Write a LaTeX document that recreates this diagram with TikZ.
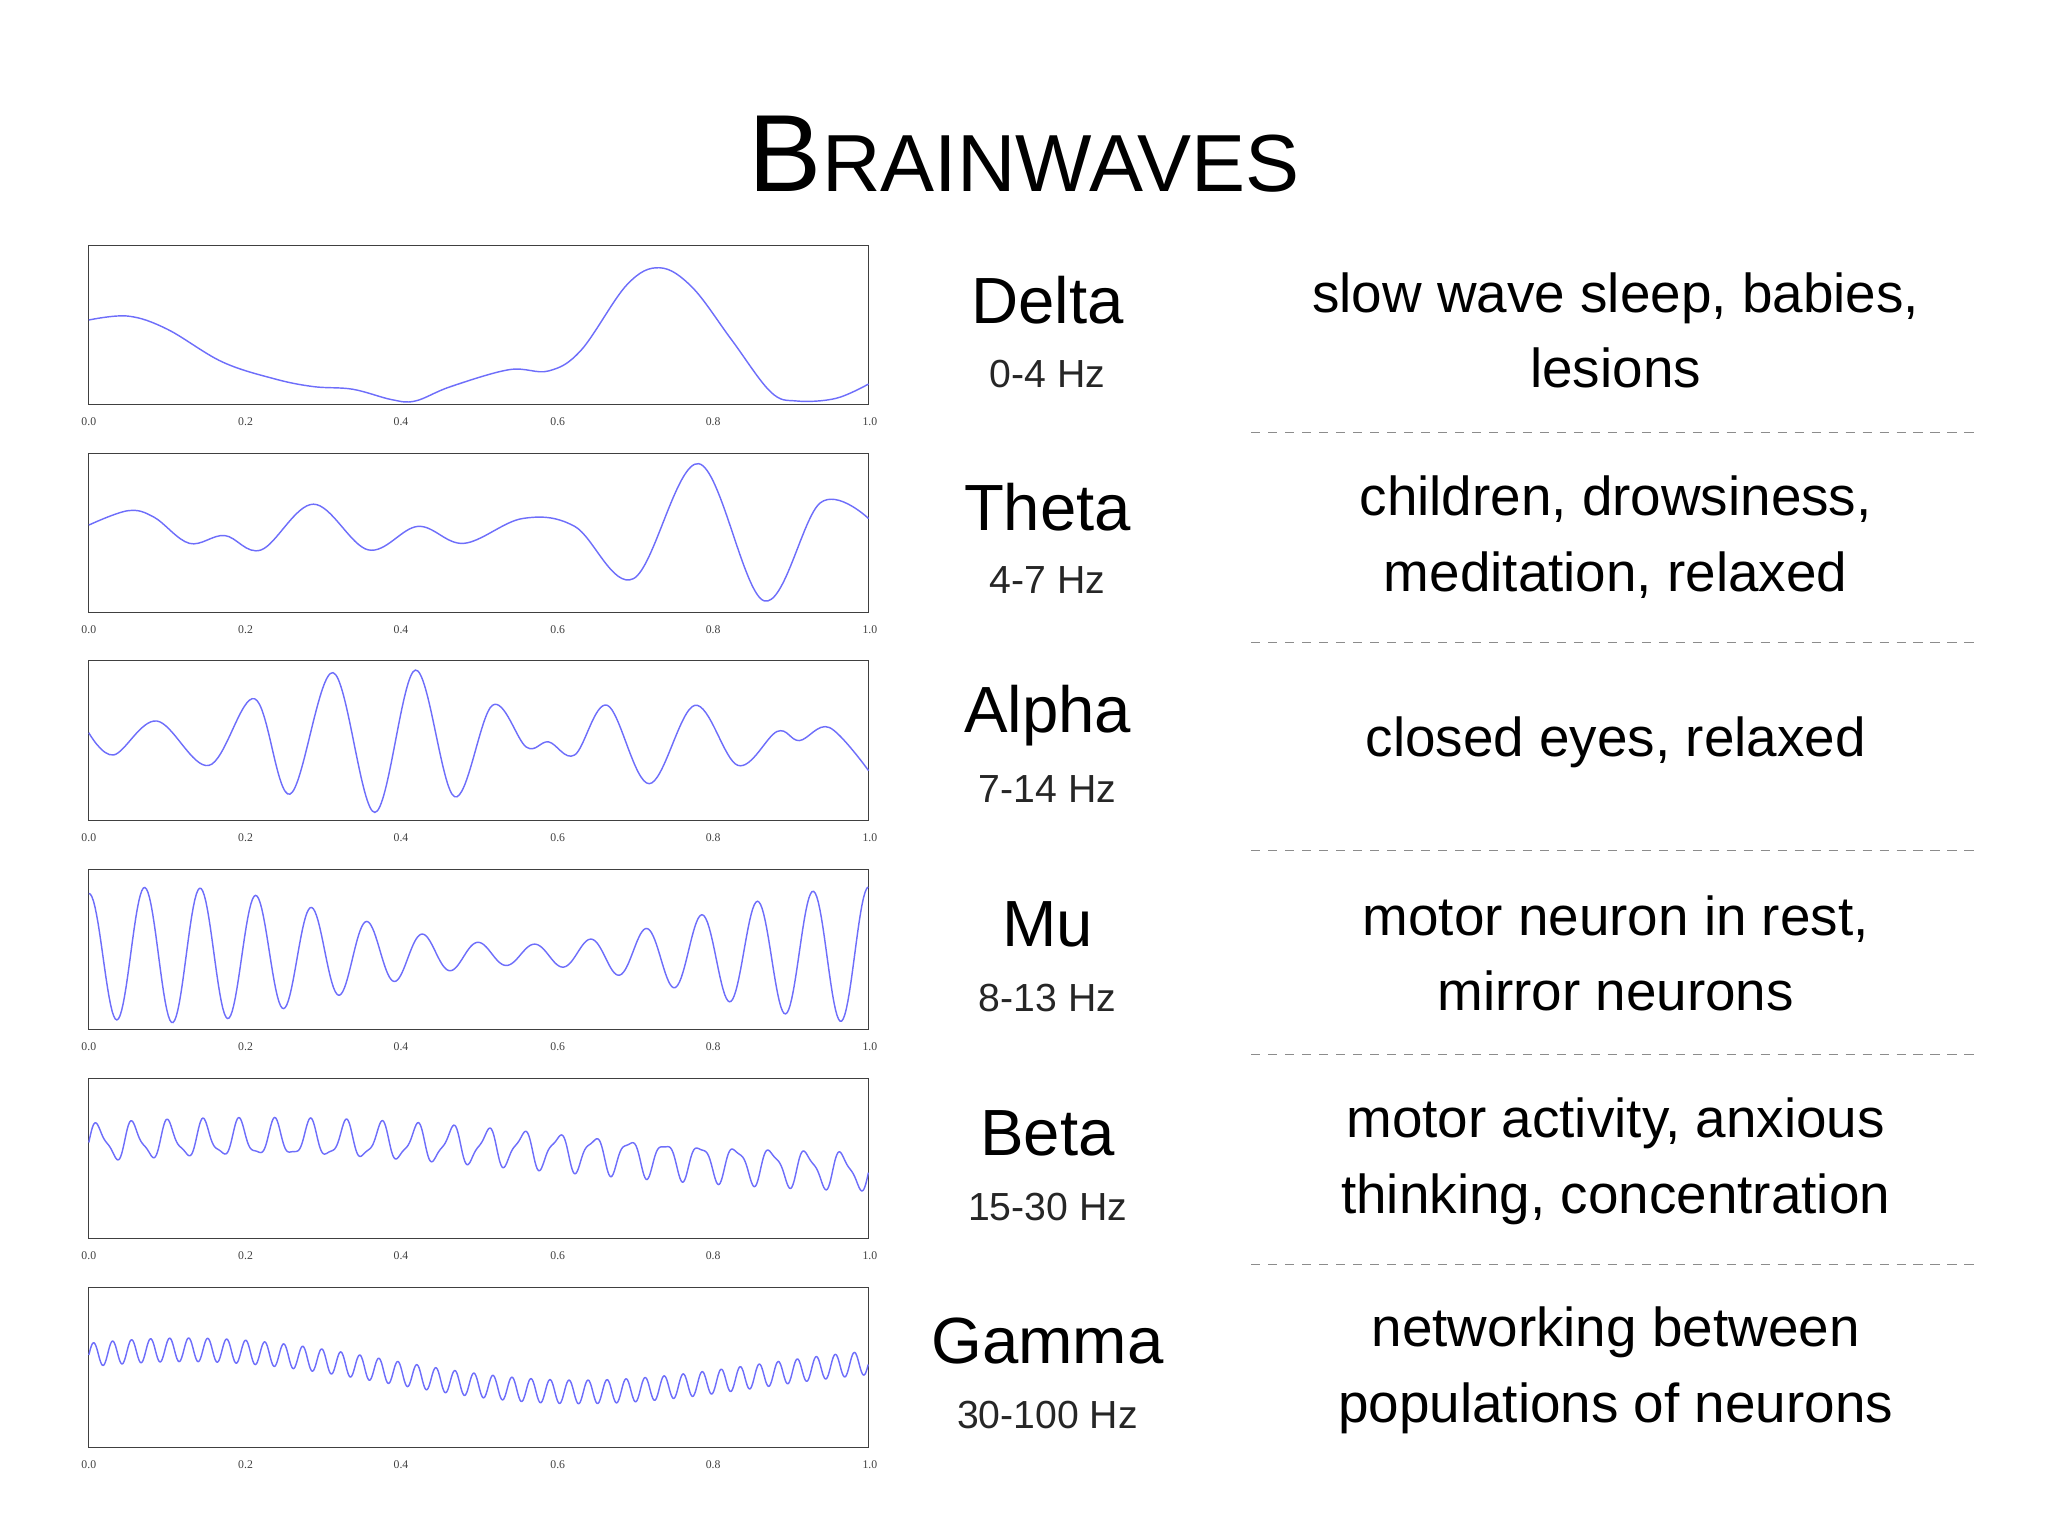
\documentclass[tikz,border=0pt]{standalone}
\usepackage{fontspec}
\setmainfont{Liberation Sans}
\newfontfamily\tickfont{Liberation Serif}
\begin{document}
\begin{tikzpicture}[x=1pt,y=-1pt,
  wave/.style={draw={rgb,255:red,110;green,110;blue,250},line width=1.1pt},
  plotbox/.style={draw=black!75,line width=0.8pt},
  tick/.style={font=\tickfont\fontsize{9}{10}\selectfont,text=black!75},
  wname/.style={font=\fontsize{50}{56}\selectfont},
  wfreq/.style={font=\fontsize{30}{34}\selectfont,text=black!85},
  desc/.style={font=\fontsize{42}{58}\selectfont,align=center},
  sep/.style={draw=black!45,dashed,dash pattern=on 7pt off 6pt,line width=0.8pt}]
\useasboundingbox (0,0) rectangle (1568,1176);
\node (title) at (784,118) {\fontsize{84}{90}\selectfont B\fontsize{62}{70}\selectfont RAINWAVES};
% boxes
\foreach \t/\n in {188/a,347/b,506/c,666/d,826/e,986/f}{
  \draw[plotbox] (68,\t) rectangle (665,\t+122);
  \foreach \xx/\l in {68/0.0,188/0.2,307/0.4,427/0.6,546/0.8,666/1.0}
    \node[tick] at (\xx,\t+135) {\l};
}
% delta
\draw[wave] plot[smooth,tension=0.6] coordinates {(68,245) (98,242) (128,252) (170,277) (210,290) (240,296) (270,298) (300,306) (318,307) (345,296) (390,283) (420,284) (445,268) (480,218) (505,205) (530,220) (560,260) (590,300) (610,307) (640,305) (665,294)};
% theta
\draw[wave] plot[smooth,tension=0.6] coordinates {(68,402) (98,391) (118,396) (145,416) (172,410) (200,421) (240,386) (282,421) (320,403) (355,416) (400,397) (440,403) (485,443) (535,355) (585,460) (628,385) (665,397)};
% alpha
\draw[wave] plot[smooth,tension=0.6] coordinates {(68,561) (87,578) (120,552) (160,586) (195,535) (222,608) (255,515) (287,622) (318,513) (348,610) (377,540) (403,572) (420,568) (440,578) (465,540) (497,600) (532,540) (565,586) (595,560) (612,567) (635,557) (665,590)};
% mu
\draw[wave] plot[domain=0:1,samples=500] ({68+597*\x},{731-(30+22*cos(396*(\x-0.1)))*sin(5040*\x+90)});
% beta
\draw[wave] plot[domain=0:1,samples=900] ({68+597*\x},{887-13*(sin(138.23*\x r)+0.7*sin(194.78*\x+0.7 r)+0.5*sin(106.81*\x+1.7 r)+0.3*sin(270.18*\x r))});
% gamma
\draw[wave] plot[domain=0:1,samples=1400] ({68+597*\x},{1047-9*(sin(257.6*\x r)+0.8*sin(358.1*\x+0.7 r)+0.6*sin(207.3*\x+1.7 r)+0.5*sin(446.1*\x+0.2 r)+0.4*sin(144.5*\x+3.5 r))});
% names
\foreach \y/\nm/\fq/\k in {250/Delta/0-4 Hz/1,408/Theta/4-7 Hz/2,568/Alpha/7-14 Hz/3,728/Mu/8-13 Hz/4,888/Beta/15-30 Hz/5,1047/Gamma/30-100 Hz/6}{
  \node[wname] (n\k) at (802,\y-20) {\nm};
  \node[wfreq] (f\k) at (802,\y+36) {\fq};
}
\node[desc] (d1) at (1237,253) {slow wave sleep, babies,\\lesions};
\node[desc] (d2) at (1237,411) {children, drowsiness,\\meditation, relaxed};
\node[desc] (d3) at (1237,568) {closed eyes, relaxed};
\node[desc] (d4) at (1237,730) {motor neuron in rest,\\mirror neurons};
\node[desc] (d5) at (1237,889) {motor activity, anxious\\thinking, concentration};
\node[desc] (d6) at (1237,1049) {networking between\\populations of neurons};
\foreach \y in {331,492,651,807,968}
  \draw[sep] (958,\y) -- (1515,\y);
\end{tikzpicture}
\end{document}
